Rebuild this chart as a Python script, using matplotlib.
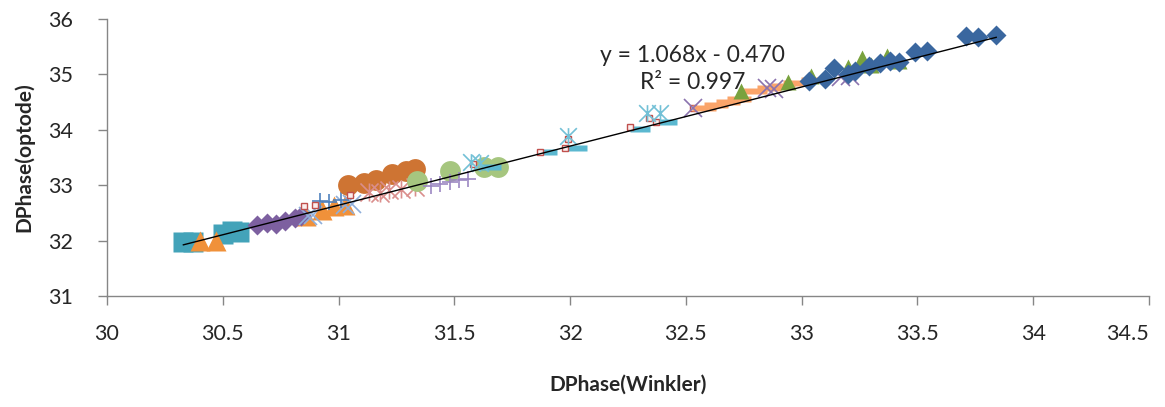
import numpy as np
import matplotlib
matplotlib.use('Agg')
import matplotlib.pyplot as plt
from matplotlib.path import Path

plt.rcParams['font.family'] = ['Lato', 'DejaVu Sans']

# --- data (x = DPhase Winkler, y = DPhase optode) ---
teal_sq_x = [30.33, 30.37, 30.50, 30.54, 30.57]
teal_sq_y = [31.98, 31.97, 32.12, 32.17, 32.15]

orange_tri_x = [30.40, 30.47, 30.86, 30.93, 30.98, 31.03]
orange_tri_y = [31.99, 31.99, 32.45, 32.55, 32.62, 32.65]

purple_dia_x = [30.65, 30.69, 30.73, 30.77, 30.81, 30.84]
purple_dia_y = [32.28, 32.32, 32.30, 32.35, 32.40, 32.44]

ltblue_x_x = [30.87, 30.89, 31.03, 31.06]
ltblue_x_y = [32.44, 32.47, 32.64, 32.66]

blue_plus_x = [30.92, 30.96, 31.01]
blue_plus_y = [32.72, 32.70, 32.74]

brown_circ_x = [31.04, 31.11, 31.16, 31.23, 31.29, 31.33]
brown_circ_y = [33.00, 33.04, 33.09, 33.20, 33.25, 33.30]

pink_star_x = [31.13, 31.18, 31.22, 31.27, 31.33]
pink_star_y = [32.87, 32.85, 32.92, 32.93, 32.96]

green_circ_x = [31.34, 31.48, 31.63, 31.69]
green_circ_y = [33.07, 33.25, 33.32, 33.32]

purple_plus_x = [31.40, 31.44, 31.48, 31.52, 31.56]
purple_plus_y = [32.98, 33.03, 33.05, 33.10, 33.12]

aqua_dash_x = [31.66, 31.90, 32.03, 32.30, 32.42]
aqua_dash_y = [33.33, 33.60, 33.68, 34.01, 34.14]

red_sq_x = [30.85, 30.90, 31.05, 31.58, 31.87, 31.99, 31.98, 32.26, 32.34, 32.37, 32.53]
red_sq_y = [32.62, 32.65, 32.82, 33.38, 33.60, 33.83, 33.67, 34.05, 34.22, 34.15, 34.39]

aqua_star_x = [31.57, 31.61, 31.99, 32.33, 32.39]
aqua_star_y = [33.42, 33.40, 33.88, 34.30, 34.30]

orange_dash_x = [32.58, 32.63, 32.68, 32.73, 32.80, 32.86, 32.92, 32.97, 33.05]
orange_dash_y = [34.40, 34.45, 34.50, 34.55, 34.70, 34.76, 34.80, 34.85, 34.90]

purple_x_x = [32.53, 32.85, 32.88, 33.17, 33.21]
purple_x_y = [34.39, 34.75, 34.74, 34.95, 34.97]

green_tri_x = [32.74, 32.94, 33.04, 33.20, 33.26, 33.30, 33.37, 33.42]
green_tri_y = [34.71, 34.87, 34.98, 35.13, 35.30, 35.17, 35.33, 35.25]

blue_dia_x = [33.03, 33.10, 33.14, 33.20, 33.23, 33.29, 33.34, 33.38, 33.42,
              33.49, 33.54, 33.71, 33.76, 33.84]
blue_dia_y = [34.89, 34.92, 35.11, 35.00, 35.07, 35.16, 35.20, 35.25, 35.22,
              35.40, 35.43, 35.70, 35.68, 35.72]

x_ticks = [30, 30.5, 31, 31.5, 32, 32.5, 33, 33.5, 34, 34.5]
x_tick_labels = ['30', '30.5', '31', '31.5', '32', '32.5', '33', '33.5', '34', '34.5']
y_ticks = [31, 32, 33, 34, 35, 36]

slope, intercept = 1.068, -0.470
eq_text = 'y = 1.068x - 0.470'
r2_text = 'R² = 0.997'

# custom Excel-like markers
dash = [(-1.5, -0.4), (1.5, -0.4), (1.5, 0.4), (-1.5, 0.4), (-1.5, -0.4)]
star = Path([(-1, -1), (1, 1), (-1, 1), (1, -1), (0, -1), (0, 1)],
            [Path.MOVETO, Path.LINETO, Path.MOVETO, Path.LINETO, Path.MOVETO, Path.LINETO])

fig = plt.figure(figsize=(11.65, 4.07), dpi=100)
ax = fig.add_axes([0.0918, 0.273, 0.8945, 0.680])

def pts(x, y, **kw):
    ax.plot(x, y, linestyle='none', **kw)

pts(teal_sq_x, teal_sq_y, marker='s', ms=14, color='#43A3B9', mec='none')
pts(orange_tri_x, orange_tri_y, marker='^', ms=14, color='#F0913A', mec='none')
pts(purple_dia_x, purple_dia_y, marker='D', ms=10, color='#7D60A0', mec='none')
pts(ltblue_x_x, ltblue_x_y, marker='x', ms=13, color='#8FAEDA', mew=1.2)
pts(blue_plus_x, blue_plus_y, marker='+', ms=11, color='#4F81BD', mew=1.2)
pts(brown_circ_x, brown_circ_y, marker='o', ms=15, color='#CE7433', mec='none')
pts(pink_star_x, pink_star_y, marker=star, ms=13, color='#DA8E8C', mew=1.2)
pts(green_circ_x, green_circ_y, marker='o', ms=15, color='#A6C67F', mec='none')
pts(purple_plus_x, purple_plus_y, marker='+', ms=12, color='#9C87C2', mew=1.2)
pts(aqua_dash_x, aqua_dash_y, marker=dash, ms=14, color='#5BB8D0', mec='none')
pts(red_sq_x, red_sq_y, marker='s', ms=5, mfc='#FBEDED', mec='#C0504D', mew=1)
pts(aqua_star_x, aqua_star_y, marker=star, ms=12, color='#72C0D6', mew=1.2)
pts(orange_dash_x, orange_dash_y, marker=dash, ms=18, color='#FAA46A', mec='none')
pts(purple_x_x, purple_x_y, marker='x', ms=13, color='#8B73AE', mew=1.2)
pts(green_tri_x, green_tri_y, marker='^', ms=11, color='#79A23E', mec='none')
pts(blue_dia_x, blue_dia_y, marker='D', ms=10.5, color='#3A679F', mec='none')

all_x = np.concatenate([teal_sq_x, blue_dia_x])
xl = np.array([all_x.min(), all_x.max()])
ax.plot(xl, slope * xl + intercept, color='black', lw=1)

ax.text(32.53, 35.34, eq_text, ha='center', va='center', fontsize=16.5, color='#262626')
ax.text(32.53, 34.86, r2_text, ha='center', va='center', fontsize=16.5, color='#262626')

ax.set_xlim(30, 34.5)
ax.set_ylim(31, 36)
ax.set_xticks(x_ticks)
ax.set_xticklabels(x_tick_labels)
ax.set_yticks(y_ticks)

for s in ['top', 'right']:
    ax.spines[s].set_visible(False)
for s in ['left', 'bottom']:
    ax.spines[s].set_color('#868686')
    ax.spines[s].set_linewidth(1)
ax.tick_params(axis='both', direction='out', length=6.5, color='#868686', labelsize=15.5,
               labelcolor='#262626', width=1)
ax.tick_params(axis='x', pad=14)
ax.tick_params(axis='y', pad=18)
ax.get_xticklabels()[-1].set_horizontalalignment('right')

ax.set_xlabel('DPhase(Winkler)', fontsize=15, fontweight='bold', color='#262626', labelpad=22)
ax.set_ylabel('DPhase(optode)', fontsize=15, fontweight='bold', color='#262626', labelpad=10)

fig.savefig('out.png', dpi=100)
